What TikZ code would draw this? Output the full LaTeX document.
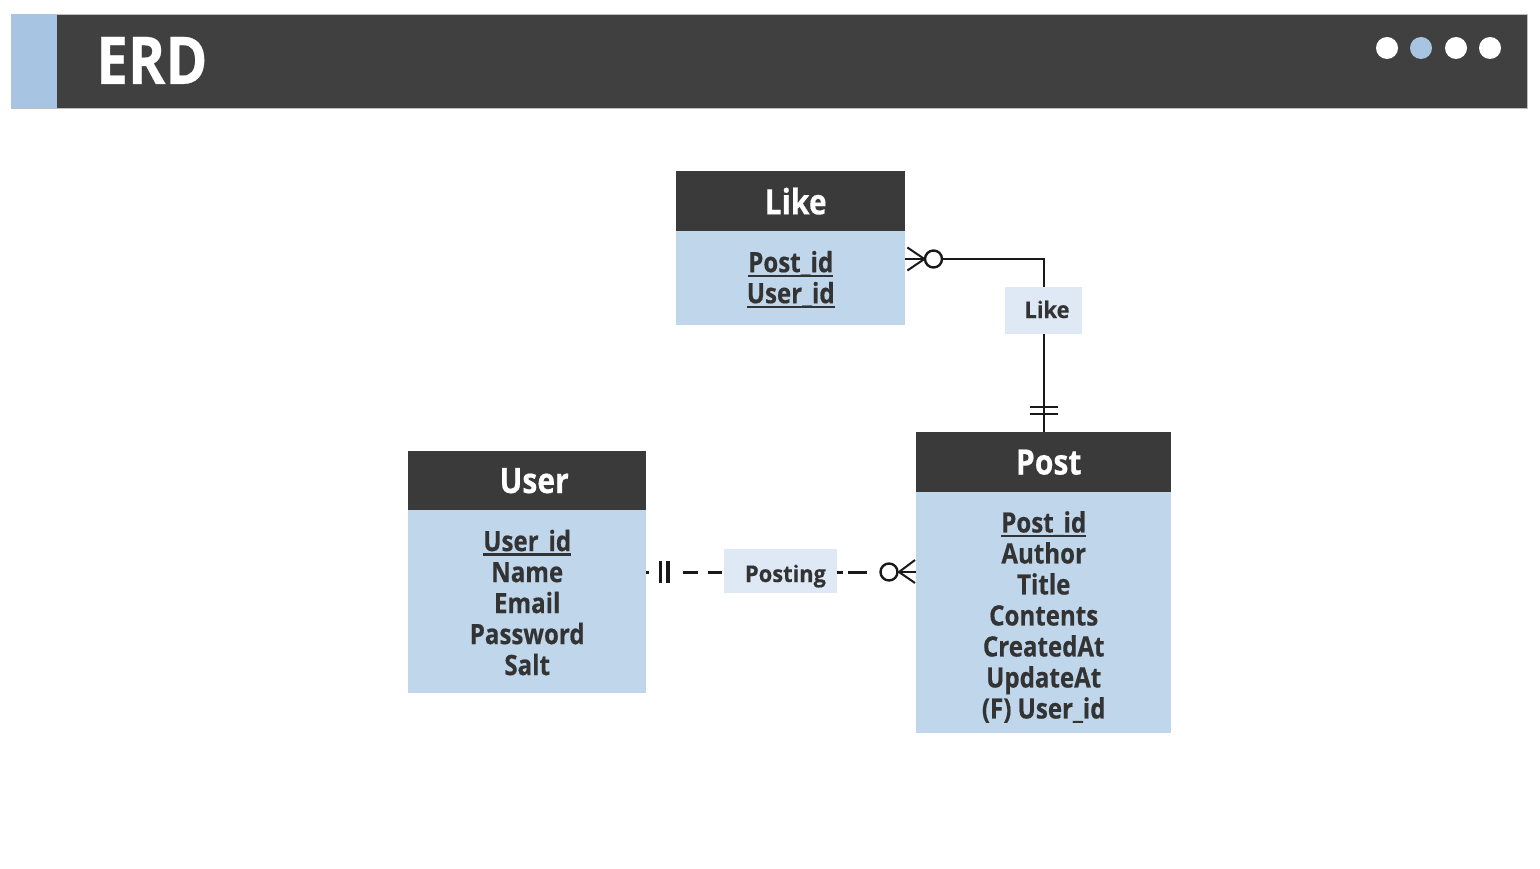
\documentclass[tikz,border=0pt]{standalone}
\usepackage{fontspec}
\setmainfont{Open Sans}[FakeStretch=0.86, BoldFeatures={FakeBold=0.4}]
\newfontfamily\lblfont{Open Sans}[FakeStretch=0.95, BoldFeatures={FakeBold=0.3}]
\usetikzlibrary{calc}
\definecolor{hdrbg}{HTML}{404040}
\definecolor{strip}{HTML}{A7C4E2}
\definecolor{tblhd}{HTML}{3A3A3A}
\definecolor{tblbd}{HTML}{C0D6EB}
\definecolor{lblbg}{HTML}{DFE9F5}
\definecolor{txt}{HTML}{333333}
\newcommand\myul[1]{\leavevmode\setbox0\hbox{#1}\rlap{\rule[-5pt]{\wd0}{2.6pt}}\box0}
\begin{document}
\begin{tikzpicture}[x=1pt,y=-1pt,
  hd/.style={fill=tblhd, text=white, font=\bfseries\fontsize{35}{40}\selectfont, anchor=north west, inner sep=0pt},
  bd/.style={fill=tblbd, text=txt, font=\bfseries\fontsize{28}{31}\selectfont, align=center, anchor=north west, inner sep=0pt},
  lbl/.style={fill=lblbg, text=txt, font=\lblfont\bfseries\fontsize{23}{27}\selectfont, inner sep=0pt},
  conn/.style={line width=2pt, draw=black!90},
  dsh/.style={line width=3pt, draw=black!90},
  ring/.style={circle, draw=black!90, fill=white, line width=2.4pt, inner sep=0pt, minimum size=17pt},
  dot/.style={circle, inner sep=0pt, minimum size=22pt}
]
\useasboundingbox (0,0) rectangle (1540,869);
% header
\fill[white] (0,0) rectangle (1540,869);
\node[draw=black!25, fill=hdrbg, line width=0.8pt, anchor=north west, minimum width=1516pt, minimum height=94pt, inner sep=0pt] (bar) at (11,14) {};
\node[fill=strip, anchor=north west, minimum width=46pt, minimum height=94pt, inner sep=0pt] (stripe) at (11,14) {};
\node[text=white, font=\bfseries\fontsize{66}{70}\selectfont, anchor=base west, inner sep=0pt] (title) at (96,84) {ERD};
\node[dot, fill=white] (d1) at (1387,48) {};
\node[dot, fill=strip] (d2) at (1421,48) {};
\node[dot, fill=white] (d3) at (1456,48) {};
\node[dot, fill=white] (d4) at (1490,48) {};

% Like table
\node[hd, minimum width=229pt, minimum height=60pt] (likeh) at (676,171) {\hspace*{10pt}Like};
\node[bd, minimum width=229pt, minimum height=94pt] (likeb) at (676,231) {\myul{Post\_id}\rule{0pt}{24pt}\\\myul{User\_id}};

% User table
\node[hd, minimum width=238pt, minimum height=59pt] (userh) at (408,451) {\hspace*{14pt}User};
\node[bd, minimum width=238pt, minimum height=183pt] (userb) at (408,510) {\myul{User\_id}\rule{0pt}{23pt}\\Name\\Email\\Password\\Salt};

% Post table
\node[hd, minimum width=255pt, minimum height=60pt] (posth) at (916,432) {\hspace*{10pt}Post};
\node[bd, minimum width=255pt, minimum height=241pt] (postb) at (916,492) {\myul{Post\_id}\rule{0pt}{30pt}\\Author\\Title\\Contents\\CreatedAt\\UpdateAt\\(F)~User\_id};

% Like relationship
\coordinate (likeport) at (likeb.north east |- 0,259);
\coordinate (postport) at (1044,432);
\node[ring] (lring) at (933.5,259) {};
\draw[conn] (lring.east) -| (postport);
\draw[conn] (likeport) -- (lring.west);
\draw[conn] (likeport) ++(2,-11.5) -- ++(17,11.5) -- ++(-17,11.5);
\draw[conn, line width=2.4pt] (postport) ++(-14,-25) -- ++(28,0);
\draw[conn, line width=2.4pt] (postport) ++(-14,-18) -- ++(28,0);
\node[lbl, minimum width=77pt, minimum height=47pt, text height=17pt, text depth=2pt] (likelbl) at (1043.5,310.5) {\hspace*{7pt}Like};

% Posting relationship
\coordinate (userport) at (userb.north east |- 0,572);
\coordinate (postport2) at (postb.north west |- 0,572);
\node[lbl, minimum width=113pt, minimum height=44pt, text height=24pt, text depth=2pt] (postlbl) at (780.5,571) {\hspace*{10pt}Posting};
\node[ring] (pring) at (889,572) {};
\draw[dsh, dash pattern=on 3pt off 34pt on 15pt off 10pt on 14pt off 200pt] (userport) -- (postlbl.west |- userport);
\draw[dsh, dash pattern=on 6pt off 5pt on 19pt off 100pt] (postlbl.east |- userport) -- (pring.west);
\draw[conn] (pring.east) -- (postport2);
\draw[conn] (postport2) ++(-1,-12) -- ++(-16,12) -- ++(16,11);
\draw[conn, line width=3.2pt] (userport) ++(14,-11) -- ++(0,22);
\draw[conn, line width=3.2pt] (userport) ++(21.5,-11) -- ++(0,22);
\end{tikzpicture}
\end{document}
